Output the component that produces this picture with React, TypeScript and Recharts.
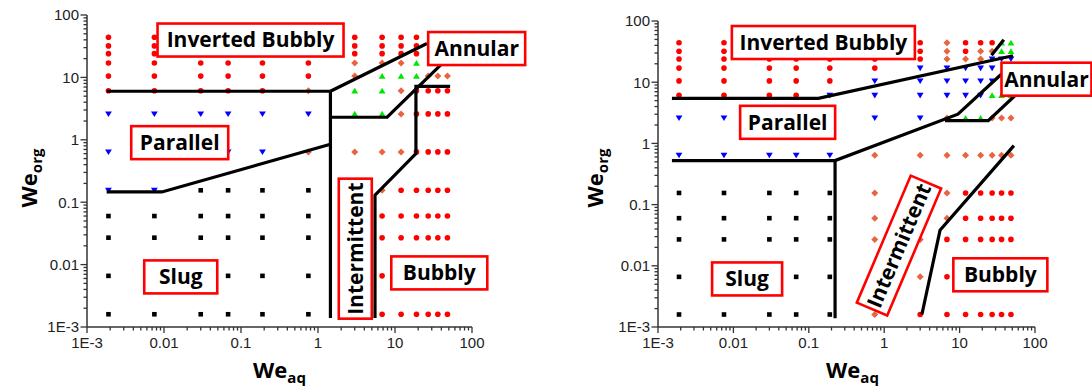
import React from "react";
import { ReferenceDot, Scatter, ScatterChart, XAxis, YAxis } from "recharts";

// grid of test conditions (same on both maps)
const weAq = [0.0019, 0.0075, 0.03, 0.068, 0.19, 0.75, 3, 6.8, 12, 19, 27, 36, 48];
const weOrg = [44, 32, 24, 17, 10.5, 6.1, 2.6, 0.64, 0.155, 0.06, 0.027, 0.0066, 0.0016];

// observed regime per row (weOrg) and column (weAq)
// R bubbly, B parallel, K slug, G annular, D intermittent, . hidden by a label
const regimesLeft = [
  "RR....RRRR...",
  "RR....RRRR...",
  "RR....RRRR...",
  "RRRRRRDDDG...",
  "RRRRRRDGGGDDD",
  "RRRRRDGGDRRRR",
  "BBBBBBGGDRRRR",
  "B..BBDDDDRRRR",
  "BBKKKK.DRRRRR",
  "KKKKKK.RRRRRR",
  "KKKKKK.RRRRRR",
  "KK.KKK.R.....",
  "KKKKKK.RRRRRR",
];
const regimesRight = [
  "RR....RDRRRGG",
  "RR....RDRDDGG",
  "RRRRRRRDDDBBB",
  "RRRRRRBBBBB..",
  "RRRRRBBBBBB..",
  "RRRRBBBBBBGGG",
  "BB...BBDGGDDD",
  "BBBBBDDDDDDDD",
  "KKKKKD.DRRRRR",
  "KKKKKD.DRRRRR",
  "KKKKKDDRRRRRR",
  "K..KK.DR.....",
  "KKKKKDRRRRRRR",
];

// transition lines [weAq, weOrg]
const boundariesLeft = [
  [[0.0018, 6.0], [1.45, 6.0]],
  [[1.45, 6.0], [1.45, 0.0014]],
  [[1.45, 6.0], [26, 35]],
  [[1.45, 2.3], [7.9, 2.3], [39, 15.7]],
  [[0.0018, 0.146], [0.0094, 0.146], [1.45, 0.85]],
  [[52, 7.2], [18.7, 7.2], [18.7, 0.6], [5.5, 0.13], [5.5, 0.0014]],
];
const boundariesRight = [
  [[0.00153, 5.45], [0.134, 5.45], [51, 27]],
  [[26.5, 27.6], [38.6, 49.4]],
  [[0.00153, 0.525], [0.223, 0.525], [9.5, 3.0], [36, 13.6]],
  [[0.223, 0.525], [0.223, 0.00139]],
  [[6.4, 2.35], [24, 2.35], [54, 6.0]],
  [[52.5, 0.92], [5.5, 0.038], [3.16, 0.0016]],
];

// region names placed at [weAq, weOrg]
const regionsLeft = [
  { text: "Inverted Bubbly", at: [0.133, 39.7], w: 186, angle: 0 },
  { text: "Annular", at: [115, 29], w: 97, angle: 0 },
  { text: "Parallel", at: [0.016, 0.9], w: 97, angle: 0 },
  { text: "Slug", at: [0.0165, 0.00635], w: 73, angle: 0 },
  { text: "Intermittent", at: [3.05, 0.018], w: 140, angle: -90 },
  { text: "Bubbly", at: [37.6, 0.00736], w: 96, angle: 0 },
];
const regionsRight = [
  { text: "Inverted Bubbly", at: [0.156, 44.5], w: 183, angle: 0 },
  { text: "Annular", at: [142, 11.2], w: 90, angle: 0 },
  { text: "Parallel", at: [0.0524, 2.21], w: 95, angle: 0 },
  { text: "Slug", at: [0.0152, 0.0061], w: 70, angle: 0 },
  { text: "Intermittent", at: [1.57, 0.0214], w: 138, angle: -67 },
  { text: "Bubbly", at: [34.7, 0.00713], w: 94, angle: 0 },
];

const majorTicks = [0.001, 0.01, 0.1, 1, 10, 100];
const tickLabels = ["1E-3", "0.01", "0.1", "1", "10", "100"];
const axisTicks = [0.001, 0.01, 0.1, 1, 10]
  .flatMap((d) => [1, 2, 3, 4, 5, 6, 7, 8, 9].map((m) => +(m * d).toPrecision(3)))
  .concat(100);

const REGIME_ORDER = ["K", "B", "R", "D", "G"];
const AXIS = "#333";
const LABEL_FONT = "'Open Sans', Lato, sans-serif";
const TICK_FONT = "'Liberation Sans', Arial, sans-serif";

function pointsFor(grid: string[], kind: string) {
  const out: { x: number; y: number }[] = [];
  grid.forEach((row, r) =>
    row.split("").forEach((ch, c) => {
      if (ch === kind) out.push({ x: weAq[c], y: weOrg[r] });
    })
  );
  return out;
}

function Marker({ kind, cx, cy }: { kind: string; cx: number; cy: number }) {
  if (cx == null || cy == null) return <g />;
  switch (kind) {
    case "R":
      return <circle cx={cx} cy={cy} r={2.8} fill="#ff0000" />;
    case "B":
      return (
        <polygon
          points={`${cx - 3.4},${cy - 2.5} ${cx + 3.4},${cy - 2.5} ${cx},${cy + 3.1}`}
          fill="#0000ff"
        />
      );
    case "K":
      return <rect x={cx - 2.3} y={cy - 2.3} width={4.6} height={4.6} fill="#000" />;
    case "G":
      return (
        <polygon
          points={`${cx - 3.4},${cy + 2.7} ${cx + 3.4},${cy + 2.7} ${cx},${cy - 3.1}`}
          fill="#00e600"
        />
      );
    default:
      return (
        <polygon
          points={`${cx},${cy - 3.5} ${cx + 3.5},${cy} ${cx},${cy + 3.5} ${cx - 3.5},${cy}`}
          fill="#e8643f"
        />
      );
  }
}

function XTick(props: any) {
  const { x, y, payload } = props;
  const i = majorTicks.indexOf(payload.value);
  return (
    <g>
      <line x1={x} x2={x} y1={y} y2={y + (i >= 0 ? 6 : 3.5)} stroke={AXIS} strokeWidth={1.3} />
      {i >= 0 && (
        <text x={x} y={y + 21} textAnchor="middle" fontFamily={TICK_FONT} fontSize={15} fill="#222">
          {tickLabels[i]}
        </text>
      )}
    </g>
  );
}

function YTick(props: any) {
  const { x, y, payload } = props;
  const i = majorTicks.indexOf(payload.value);
  return (
    <g>
      <line x1={x} x2={x - (i >= 0 ? 6.5 : 3.5)} y1={y} y2={y} stroke={AXIS} strokeWidth={1.3} />
      {i >= 0 && (
        <text x={x - 8} y={y} dy="0.36em" textAnchor="end" fontFamily={TICK_FONT} fontSize={15} fill="#222">
          {tickLabels[i]}
        </text>
      )}
    </g>
  );
}

function RegionLabel({ cx, cy, text, w, angle }: any) {
  return (
    <g transform={`translate(${cx},${cy}) rotate(${angle})`}>
      <rect x={-w / 2} y={-16.5} width={w} height={33} fill="#fff" stroke="#ff0000" strokeWidth={2.6} />
      <text
        x={0}
        y={0}
        dy="0.35em"
        textAnchor="middle"
        fontFamily={LABEL_FONT}
        fontWeight={700}
        fontSize={21}
        fill="#000"
      >
        {text}
      </text>
    </g>
  );
}

interface FlowMapProps {
  regimes: string[];
  boundaries: number[][][];
  regions: { text: string; at: number[]; w: number; angle: number }[];
  margin: { top: number; right: number; bottom: number; left: number };
  yAxisWidth: number;
  yTitleX: number;
  yTitleY: number;
  xTitleShift: number;
}

function FlowMap({ regimes, boundaries, regions, margin, yAxisWidth, yTitleX, yTitleY, xTitleShift }: FlowMapProps) {
  return (
    <ScatterChart width={546} height={391} margin={margin}>
      <XAxis
        type="number"
        dataKey="x"
        scale="log"
        domain={[0.001, 100]}
        allowDataOverflow
        ticks={axisTicks}
        interval={0}
        tickSize={0}
        tickMargin={0}
        tick={(p: any) => <XTick {...p} />}
        tickLine={false}
        axisLine={{ stroke: AXIS, strokeWidth: 1.5 }}
        height={64}
        label={{
          content: (p: any) => {
            const vb = p.viewBox || {};
            return (
              <text
                x={vb.x + vb.width / 2 + xTitleShift}
                y={vb.y + 51}
                textAnchor="middle"
                fontFamily={LABEL_FONT}
                fontWeight={700}
                fontSize={22}
                fill="#000"
              >
                We
                <tspan dy={5} fontSize={15}>
                  aq
                </tspan>
              </text>
            );
          },
        }}
      />
      <YAxis
        type="number"
        dataKey="y"
        scale="log"
        domain={[0.001, 100]}
        allowDataOverflow
        ticks={axisTicks}
        interval={0}
        tickSize={0}
        tickMargin={0}
        tick={(p: any) => <YTick {...p} />}
        tickLine={false}
        axisLine={{ stroke: AXIS, strokeWidth: 1.5 }}
        width={yAxisWidth}
        label={{
          content: () => (
            <text
              transform={`translate(${yTitleX},${yTitleY}) rotate(-90)`}
              textAnchor="middle"
              fontFamily={LABEL_FONT}
              fontWeight={700}
              fontSize={22}
              fill="#000"
            >
              We
              <tspan dy={5} fontSize={15}>
                org
              </tspan>
            </text>
          ),
        }}
      />
      {REGIME_ORDER.map((kind) => (
        <Scatter
          key={kind}
          data={pointsFor(regimes, kind)}
          isAnimationActive={false}
          shape={(p: any) => <Marker kind={kind} cx={p.cx} cy={p.cy} />}
        />
      ))}
      {boundaries.map((line, i) => (
        <Scatter
          key={`b${i}`}
          data={line.map(([x, y]) => ({ x, y }))}
          fill="#000"
          line={{ stroke: "#000", strokeWidth: 3.2 }}
          isAnimationActive={false}
          shape={() => <g />}
        />
      ))}
      {regions.map((r) => (
        <ReferenceDot
          key={r.text}
          x={r.at[0]}
          y={r.at[1]}
          r={1}
          ifOverflow="visible"
          shape={(p: any) => <RegionLabel cx={p.cx} cy={p.cy} text={r.text} w={r.w} angle={r.angle} />}
        />
      ))}
    </ScatterChart>
  );
}

export default function App() {
  return (
    <div style={{ position: "absolute", left: 0, top: 0, width: 1092, height: 391, background: "#fff" }}>
      <div style={{ position: "absolute", left: 0, top: 0 }}>
        <FlowMap
          regimes={regimesLeft}
          boundaries={boundariesLeft}
          regions={regionsLeft}
          margin={{ top: 15, right: 74, bottom: 0, left: 0 }}
          yAxisWidth={87}
          yTitleX={37}
          yTitleY={178}
          xTitleShift={0}
        />
      </div>
      <div style={{ position: "absolute", left: 546, top: 0 }}>
        <FlowMap
          regimes={regimesRight}
          boundaries={boundariesRight}
          regions={regionsRight}
          margin={{ top: 21, right: 57, bottom: 0, left: 0 }}
          yAxisWidth={112}
          yTitleX={57}
          yTitleY={178}
          xTitleShift={6}
        />
      </div>
    </div>
  );
}
